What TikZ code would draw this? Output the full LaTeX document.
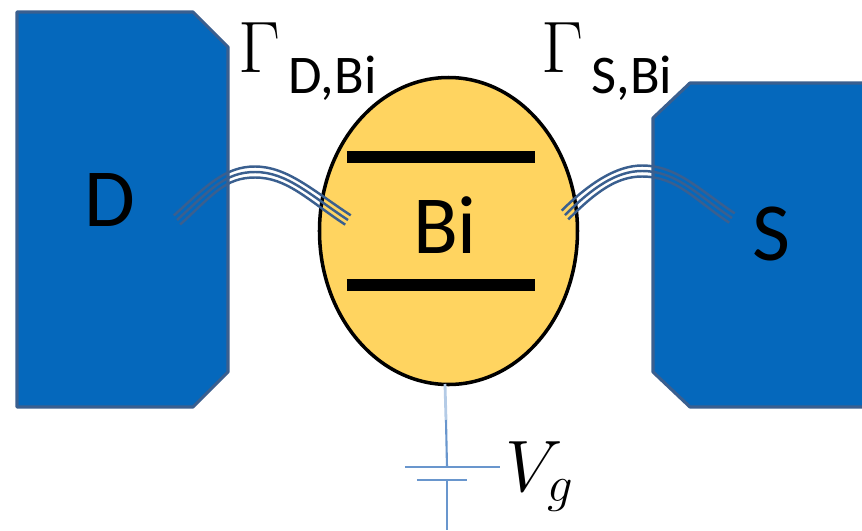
\documentclass[tikz,border=0pt]{standalone}
\usepackage{fontspec}
\newfontfamily\lblfont{Carlito}
\usetikzlibrary{calc,shapes.geometric}
\definecolor{elecblue}{RGB}{5,104,188}
\definecolor{elecedge}{RGB}{58,95,143}
\definecolor{dotyellow}{RGB}{255,212,96}
\definecolor{gateblue}{RGB}{105,150,205}
\tikzset{
  elec/.style={draw=elecedge,fill=elecblue,line width=.9pt,line join=round},
  dot/.style={ellipse,draw=black,fill=dotyellow,line width=1pt,minimum width=2.58cm,minimum height=3.07cm,inner sep=0pt},
  lvl/.style={draw=black,line width=3.6pt},
  wire/.style={draw=elecedge,line width=.7pt},
  gate/.style={draw=gateblue,line width=.6pt},
  gatef/.style={draw=gateblue!50,line width=.8pt},
  big/.style={font=\lblfont\fontsize{23.5}{26}\selectfont,inner sep=0pt},
  sub/.style={font=\lblfont\fontsize{15.5}{18}\selectfont,inner sep=0pt,anchor=base west},
  sym/.style={font=\fontsize{21.5}{24}\selectfont,inner sep=0pt,anchor=base west},
}
\begin{document}
\begin{tikzpicture}
\useasboundingbox (0,0) rectangle (8.62,5.30);
% electrodes, the source one runs off the right edge
\path[elec] (0.17,5.18) -- (1.93,5.18) -- (2.28,4.83) -- (2.28,1.58) -- (1.93,1.23) -- (0.17,1.23) -- cycle;
\path[elec] (8.70,4.47) -- (6.90,4.47) -- (6.53,4.12) -- (6.53,1.58) -- (6.90,1.23) -- (8.70,1.23);
\node[dot] (dotBi) at (4.485,2.99) {};
\coordinate (lvlAl) at (3.47,3.73); \coordinate (lvlAr) at (5.35,3.73);
\coordinate (lvlBl) at (3.47,2.45); \coordinate (lvlBr) at (5.35,2.45);
\draw[lvl] (lvlAl)--(lvlAr) (lvlBl)--(lvlBr);
\node[big] (lblD) at (1.10,3.30) {D};
\node[big] (lblS) at (7.71,2.96) {S};
\node[big] (lblBi) at (4.45,3.05) {Bi};
% tunnel wires are three thin strands side by side
\coordinate (wDa) at (1.77,3.10); \coordinate (wDb) at (2.55,3.58); \coordinate (wDc) at (3.48,3.10);
\coordinate (wSa) at (5.65,3.15); \coordinate (wSb) at (6.42,3.59); \coordinate (wSc) at (7.32,3.12);
\foreach \o in {-0.055,0,0.055} {
  \draw[wire] ($(wDa)+(-0.57*\o,0.82*\o)$) .. controls ($(wDa)+(0.33-0.57*\o,0.30+0.82*\o)$) and ($(wDb)+(-0.30,\o)$) .. ($(wDb)+(0,\o)$)
    .. controls ($(wDb)+(0.32,\o)$) and ($(wDc)+(-0.38+0.5*\o,0.25+0.85*\o)$) .. ($(wDc)+(0.5*\o,0.85*\o)$);
  \draw[wire] ($(wSa)+(-0.6*\o,0.8*\o)$) .. controls ($(wSa)+(0.28-0.6*\o,0.28+0.8*\o)$) and ($(wSb)+(-0.25,\o)$) .. ($(wSb)+(0,\o)$)
    .. controls ($(wSb)+(0.35,\o)$) and ($(wSc)+(-0.35+0.5*\o,0.23+0.85*\o)$) .. ($(wSc)+(0.5*\o,0.85*\o)$);
}
% gate
\coordinate (gTop) at (4.45,1.46); \coordinate (gMid) at (4.46,1.10);
\coordinate (gA) at (4.47,0.63); \coordinate (gB) at (4.47,0.50); \coordinate (gEnd) at (4.47,0);
\coordinate (pAl) at (4.05,0.63); \coordinate (pAr) at (5.00,0.63);
\coordinate (pBl) at (4.17,0.50); \coordinate (pBr) at (4.67,0.50);
\draw[gatef] (gTop)--(gMid);
\draw[gate] (gMid)--(gA);
\draw[gate] (pAl)--(pAr) (pBl)--(pBr) (gB)--(gEnd);
% labels
\node[sym] (lblG1) at (2.38,4.58) {$\Gamma$};
\node[sub] (lblG1s) at (2.88,4.37) {D,Bi};
\node[sym] (lblG2) at (5.41,4.58) {$\Gamma$};
\node[sub] (lblG2s) at (5.91,4.37) {S,Bi};
\node[sym] (lblV) at (5.05,0.39) {$V_g$};
\end{tikzpicture}
\end{document}
